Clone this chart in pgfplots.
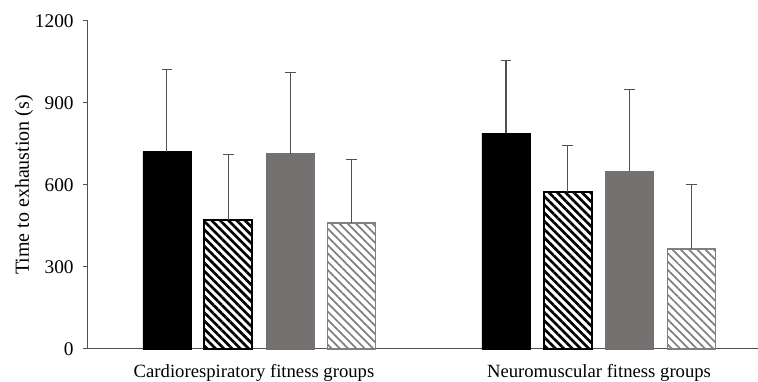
\documentclass[border=0pt]{standalone}
\usepackage{fontspec}
\setmainfont{Liberation Serif}
\usepackage{pgfplots}
\pgfplotsset{compat=1.18}
\usetikzlibrary{patterns.meta}
\definecolor{axgray}{HTML}{505050}
\definecolor{bargray}{HTML}{757171}
\definecolor{strgray}{HTML}{808080}
\begin{document}
\begin{tikzpicture}
\useasboundingbox (-66pt,-24.75pt) rectangle (502.5pt,261.75pt);
\begin{axis}[
  scale only axis,
  width=502.5pt, height=246pt,
  xmin=88, xmax=758, ymin=0, ymax=1200,
  axis x line*=bottom, axis y line*=left,
  axis line style={axgray, line width=0.75pt},
  ytick={0,300,600,900,1200},
  xtick={254,599},
  xticklabels={Cardiorespiratory fitness groups, Neuromuscular fitness groups},
  x tick style={draw=none},
  y tick style={axgray, line width=0.75pt},
  tick align=outside,
  major tick length=3.75pt,
  /pgf/number format/assume math mode=true,
  /pgf/number format/1000 sep={},
  yticklabel style={font=\fontsize{14.5}{16}\selectfont, xshift=-3.5pt},
  xticklabel style={font=\fontsize{14}{16}\selectfont, anchor=base, yshift=-17.5pt},
  ybar, bar width=48, bar shift=0pt,
  error bars/y dir=plus, error bars/y explicit,
  error bars/error mark=|,
  error bars/error bar style={line width=0.75pt, color=axgray},
  error bars/error mark options={line width=0.75pt, mark size=4pt, color=axgray},
  clip=false,
]
\addplot[fill=black, draw=black, line width=0.5pt] coordinates {(167,722) +- (0,299) (506,789) +- (0,266)};
\addplot[draw=black, line width=1.5pt, pattern={Lines[angle=-45,distance=4.4pt,line width=2pt]}, pattern color=black] coordinates {(228.5,473) +- (0,239) (567.5,574) +- (0,172)};
\addplot[fill=bargray, draw=bargray, line width=0.5pt] coordinates {(290.5,715) +- (0,295) (629.5,651) +- (0,300)};
\addplot[draw=strgray, line width=1.2pt, pattern={Lines[angle=-45,distance=4.4pt,line width=1.3pt]}, pattern color=strgray] coordinates {(351.5,462) +- (0,231) (691.5,365) +- (0,238)};
\end{axis}
\node[rotate=90, font=\fontsize{15}{17}\selectfont] at (-48pt,123pt) {Time to exhaustion (s)};
\end{tikzpicture}
\end{document}
